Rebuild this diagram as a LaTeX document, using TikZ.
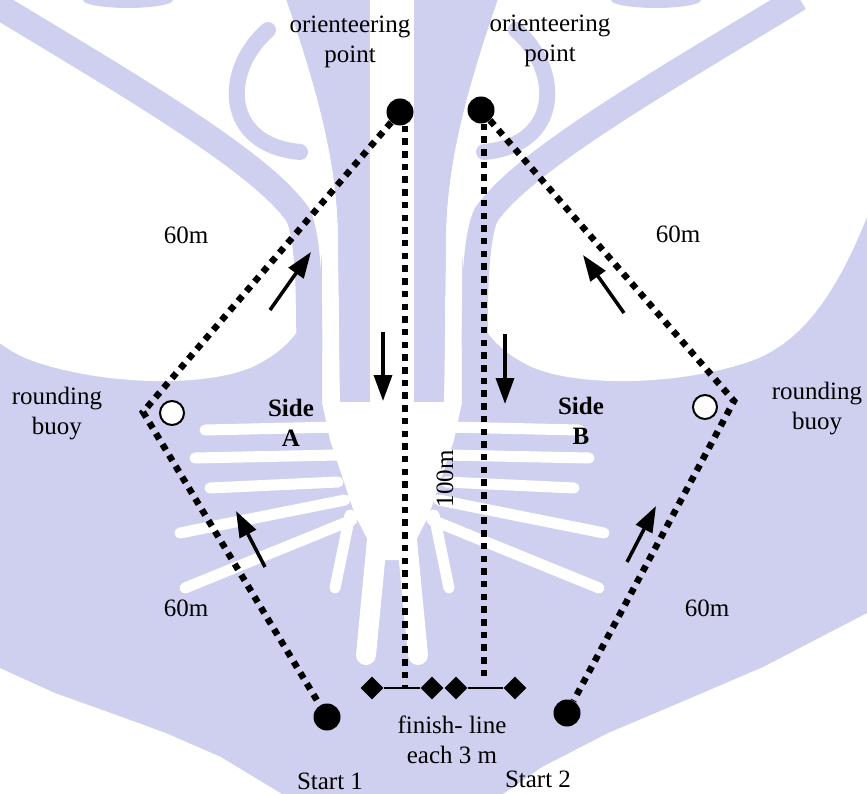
\documentclass[tikz,border=0pt]{standalone}
\usepackage{fontspec}
\setmainfont{Liberation Serif}
\usetikzlibrary{shapes.geometric, arrows.meta, positioning}
\definecolor{wmblue}{RGB}{207,207,240}

% white parts of one half of the watermark
\newcommand{\wmwhitehalf}{%
  \fill[white] (-100,-10) -- (283,-10) .. controls (318,90) and (336,160) .. (338,230) -- (340,405) -- (322,405) -- (322,250)
    .. controls (318,320) and (290,350) .. (250,368) .. controls (200,388) and (100,385) .. (30,360)
    .. controls (-20,340) and (-60,290) .. (-100,170) -- cycle;
  \fill[white] (322,402) -- (392,402) -- (392,560) -- (378,560) -- (355,515) -- (330,440) -- cycle;
  \draw[ray] (338,427) -- (205,430);
  \draw[ray] (338,455) -- (195,458);
  \draw[ray] (338,482) -- (210,488);
  \draw[ray] (345,500) -- (180,533);
  \draw[ray] (352,520) -- (185,588);
  \draw[ray] (350,515) -- (335,588);
  \draw[ray, line width=20pt] (378,530) -- (366,655);
}
% lavender bands of one half of the watermark
\newcommand{\wmbandhalf}{%
  \draw[wmblue, line width=26pt] (-15,-2) .. controls (120,80) and (260,160) .. (298,215) .. controls (312,245) and (309,330) .. (309,410);
  \draw[wmblue, line width=16pt, line cap=round] (268,30) .. controls (222,70) and (222,145) .. (300,152);
  \fill[wmblue] (128,0) ellipse [x radius=45, y radius=8];
  \fill[wmblue] (283,-10) .. controls (318,90) and (336,160) .. (338,230) -- (340,395) arc[start angle=180, end angle=360, radius=15]
    -- (368,230) .. controls (366,150) and (358,60) .. (353,-10) -- cycle;
}

\begin{document}
\begin{tikzpicture}[x=1pt, y=-1pt,
    ptdot/.style={circle, fill=black, inner sep=0pt, minimum size=27pt},
    buoy/.style={circle, draw=black, fill=white, line width=2pt, inner sep=0pt, minimum size=24pt},
    finpost/.style={diamond, fill=black, inner sep=0pt, minimum width=23pt, minimum height=23pt},
    dotline/.style={line width=6.5pt, dash pattern=on 6.5pt off 6.2pt},
    finline/.style={line width=2pt},
    flow/.style={line width=3.5pt, -{Triangle[length=26pt, width=18pt]}},
    lbl/.style={font=\fontsize{25}{30}\selectfont, align=center, inner sep=0pt},
    sidelbl/.style={lbl, font=\fontsize{25}{30}\selectfont\bfseries},
    ray/.style={white, line width=11pt, line cap=round}]
    \useasboundingbox (0,0) rectangle (867,794);

    % Watermark
    \begin{scope}
        \clip (0,0) rectangle (867,794);
        \fill[wmblue] (-10,-10) -- (877,-10) -- (877,608) -- (867,613) -- (763,667) -- (686,700) -- (608,733) -- (542,767) -- (503,794)
            -- (503,800) -- (282,800) -- (282,794) -- (221,757) -- (166,733) -- (111,713) -- (55,693) -- (0,668) -- (-10,664) -- cycle;
        \wmwhitehalf
        \begin{scope}[shift={(784,0)}, xscale=-1]
            \wmwhitehalf
        \end{scope}
        \fill[white] (370,-10) rectangle (414,410);
        \wmbandhalf
        \begin{scope}[shift={(784,0)}, xscale=-1]
            \wmbandhalf
        \end{scope}
    \end{scope}

    % Nodes
    \node (ptA) [ptdot] at (400,112) {};
    \node (ptB) [ptdot] at (481,110) {};
    \node (st1) [ptdot] at (327,717) {};
    \node (st2) [ptdot] at (567,713) {};
    \node (buoyA) [buoy] at (172,413) {};
    \node (buoyB) [buoy] at (705,407) {};
    \coordinate (cornA) at (143,412);
    \coordinate (cornB) at (734,401);
    \node (dA1) [finpost] at (372,688) {};
    \node (dA2) [finpost] at (432,688) {};
    \node (dB1) [finpost] at (456,688) {};
    \node (dB2) [finpost] at (515,688) {};
    \coordinate (endA) at (405,688);
    \coordinate (endB) at (484,680);

    % Labels
    \node (orientA) [lbl] at (350,42) {orienteering\\point};
    \node (orientB) [lbl] at (550,41) {orienteering\\point};
    \node (roundA) [lbl] at (57,414) {rounding\\buoy};
    \node (roundB) [lbl] at (817,409) {rounding\\buoy};
    \node (sideA) [sidelbl] at (291,423) {Side\\A};
    \node (sideB) [sidelbl] at (581,421) {Side\\B};
    \node (lenUL) [lbl] at (186,235) {60m};
    \node (lenUR) [lbl] at (678,234) {60m};
    \node (lenLL) [lbl] at (186,608) {60m};
    \node (lenLR) [lbl] at (707,608) {60m};
    \node (lenC) [lbl, rotate=90] at (445,479) {100m};
    \node (finish) [lbl] at (452,740) {finish- line\\each 3 m};
    \node (start1) [lbl] at (330,781) {Start 1};
    \node (start2) [lbl] at (538,779) {Start 2};

    % Course lines
    \draw[dotline] (ptA) -- (cornA) -- (st1);
    \draw[dotline] (ptB) -- (cornB) -- (st2);
    \draw[dotline] (ptA.south -| endA) -- (endA);
    \draw[dotline] (ptB.south -| endB) -- (endB);
    \draw[finline] (dA1) -- (dA2);
    \draw[finline] (dB1) -- (dB2);

    % Arrows
    \coordinate (tail1) at (270,310); \coordinate (tip1) at (311,252);
    \coordinate (tail2) at (265,567); \coordinate (tip2) at (236,511);
    \coordinate (tail3) at (383,332); \coordinate (tip3) at (383,401);
    \coordinate (tail4) at (505,334); \coordinate (tip4) at (505,404);
    \coordinate (tail5) at (624,313); \coordinate (tip5) at (583,255);
    \coordinate (tail6) at (627,562); \coordinate (tip6) at (656,506);
    \foreach \i in {1,...,6}
        \draw[flow] (tail\i) -- (tip\i);
\end{tikzpicture}
\end{document}
